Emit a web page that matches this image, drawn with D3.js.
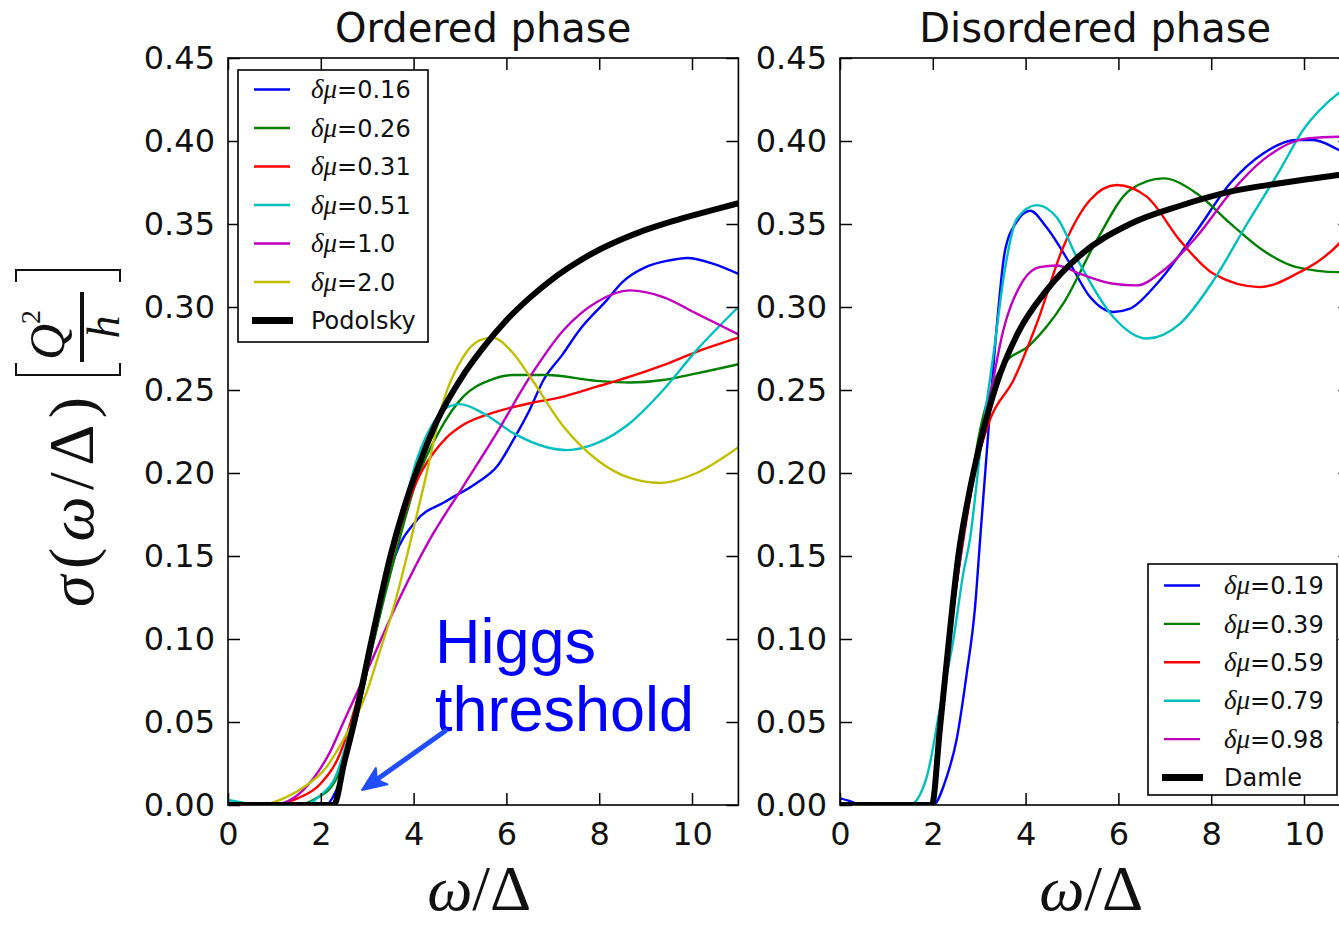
<!DOCTYPE html>
<html>
<head>
<meta charset="utf-8">
<script src="https://cdn.jsdelivr.net/npm/d3@7"></script>
<style>
body { margin: 0; background: #fff; }
</style>
</head>
<body>
<script>
var width = 1339, height = 928;

var xTicks = [0, 2, 4, 6, 8, 10];
var yTicks = [0, 0.05, 0.10, 0.15, 0.20, 0.25, 0.30, 0.35, 0.40, 0.45];
var colors = ["#0000ff", "#008000", "#ff0000", "#00bfbf", "#bf00bf", "#bfbf00"];

// ordered phase, [omega/Delta, sigma]
var orderedLabels = ["0.16", "0.26", "0.31", "0.51", "1.0", "2.0"];
var ord016 = [[0,0],[2.1,0],[2.35,0.01],[2.75,0.05],[3.15,0.10],[3.6,0.15],[4.05,0.171],[4.7,0.183],[5.36,0.194],[5.8,0.204],[6.15,0.220],[6.5,0.238],[6.8,0.256],[7.2,0.271],[7.6,0.287],[8.16,0.304],[8.5,0.315],[9.0,0.324],[9.5,0.328],[9.9,0.3295],[10.46,0.326],[11,0.320]];
var ord026 = [[0,0],[1.5,0],[1.9,0.004],[2.3,0.014],[2.75,0.05],[3.15,0.10],[3.6,0.15],[4.07,0.196],[4.55,0.225],[5.07,0.246],[5.65,0.256],[6.15,0.259],[6.87,0.259],[7.95,0.2555],[8.66,0.2545],[9.38,0.256],[10.1,0.260],[11,0.2655]];
var ord031 = [[0,0],[0.9,0],[1.5,0.004],[2.0,0.013],[2.4,0.03],[2.8,0.065],[3.15,0.105],[3.5,0.145],[3.8,0.175],[4.1,0.197],[4.4,0.211],[4.7,0.221],[5.07,0.229],[5.79,0.237],[6.51,0.242],[7.23,0.246],[7.95,0.252],[8.66,0.258],[9.38,0.265],[10.1,0.273],[11,0.2815]];
var ord051 = [[0,0.003],[0.3,0.0015],[0.6,0],[1.6,0],[2.0,0.006],[2.3,0.016],[2.7,0.052],[3.1,0.10],[3.5,0.15],[3.8,0.181],[4.07,0.208],[4.4,0.229],[4.75,0.240],[5.0,0.2415],[5.5,0.236],[6.15,0.224],[6.87,0.2155],[7.3,0.2138],[7.95,0.218],[8.66,0.230],[9.38,0.250],[10.1,0.274],[11,0.300]];
var ord10 = [[0,0],[1.0,0],[1.4,0.004],[1.84,0.016],[2.2,0.032],[2.49,0.05],[3.0,0.081],[3.68,0.1235],[4.35,0.160],[5.07,0.192],[5.79,0.224],[6.51,0.258],[7.23,0.286],[7.95,0.303],[8.66,0.310],[9.38,0.306],[10.1,0.296],[11,0.2835]];
var ord20 = [[0,0],[0.7,0],[1.2,0.004],[1.7,0.012],[2.1,0.022],[2.5,0.04],[2.95,0.065],[3.3,0.095],[3.6,0.122],[3.9,0.155],[4.25,0.196],[4.64,0.243],[5.07,0.270],[5.43,0.280],[5.7,0.2815],[6.15,0.272],[6.51,0.258],[7.23,0.228],[7.95,0.208],[8.66,0.197],[9.31,0.194],[10.1,0.200],[11,0.2155]];
var podolsky = [[0,0],[2.28,0],[2.5,0.025],[2.72,0.05],[3.1,0.10],[3.5,0.15],[3.85,0.184],[4.2,0.211],[4.5,0.231],[5.07,0.259],[5.5,0.2755],[6.0,0.292],[6.5,0.3055],[7.0,0.317],[7.5,0.3265],[8.0,0.3345],[8.5,0.341],[9.0,0.3465],[9.5,0.351],[10.0,0.355],[10.5,0.3588],[11,0.3625]];

// disordered phase
var disorderedLabels = ["0.19", "0.39", "0.59", "0.79", "0.98"];
var dis019 = [[0,0.004],[0.2,0.0025],[0.45,0],[2.0,0],[2.3,0.017],[2.51,0.039],[2.73,0.079],[2.91,0.119],[3.02,0.160],[3.2,0.226],[3.4,0.295],[3.55,0.333],[3.8,0.351],[4.1,0.358],[4.45,0.348],[4.96,0.326],[5.39,0.306],[5.89,0.297],[6.25,0.299],[6.83,0.314],[7.69,0.346],[8.41,0.3745],[9.12,0.3925],[9.84,0.4006],[10.2,0.4006],[10.75,0.3946],[11,0.391]];
var dis039 = [[0,0],[1.95,0],[2.15,0.05],[2.4,0.11],[2.65,0.16],[3.02,0.226],[3.3,0.254],[3.52,0.265],[4.09,0.277],[4.81,0.302],[5.53,0.340],[6.25,0.3705],[6.97,0.3775],[7.69,0.3684],[8.41,0.3504],[9.12,0.334],[9.84,0.324],[10.75,0.321],[11,0.3215]];
var dis059 = [[0,0],[1.95,0],[2.2,0.06],[2.45,0.12],[2.66,0.16],[2.9,0.20],[3.23,0.232],[3.74,0.256],[4.24,0.290],[4.81,0.336],[5.39,0.3645],[5.96,0.3735],[6.61,0.3665],[7.33,0.340],[8.05,0.320],[9.05,0.312],[9.84,0.320],[10.75,0.338],[11,0.346]];
var dis079 = [[0,0],[1.5,0],[1.87,0.017],[2.16,0.059],[2.44,0.099],[2.66,0.140],[2.8,0.160],[3.05,0.22],[3.3,0.27],[3.55,0.322],[3.81,0.353],[4.24,0.3614],[4.67,0.354],[5.17,0.326],[5.89,0.294],[6.61,0.281],[7.33,0.290],[8.05,0.316],[8.77,0.350],[9.48,0.3825],[9.98,0.4066],[10.75,0.429],[11,0.434]];
var dis098 = [[0,0],[1.95,0],[2.15,0.05],[2.4,0.11],[2.65,0.16],[3.0,0.215],[3.23,0.246],[3.52,0.286],[3.95,0.316],[4.3,0.324],[4.67,0.325],[5.17,0.320],[5.89,0.314],[6.39,0.313],[6.97,0.322],[7.69,0.3425],[8.41,0.3685],[9.12,0.3886],[10.06,0.4016],[10.75,0.4026],[11,0.402]];
var damle = [[0,0],[1.98,0],[2.15,0.045],[2.35,0.10],[2.55,0.15],[2.75,0.183],[3.02,0.218],[3.38,0.254],[3.81,0.283],[4.45,0.310],[5.17,0.331],[6.25,0.350],[7.33,0.361],[8.41,0.3695],[9.48,0.3745],[10.75,0.3795],[11,0.3805]];

var svg = d3.select("body").append("svg")
    .attr("width", width)
    .attr("height", height);

var sans = "'DejaVu Sans', sans-serif";
var serif = "'Liberation Serif', 'DejaVu Serif', serif";

function drawPanel(opt) {
    var x = d3.scaleLinear().domain([0, 11]).range([opt.left, opt.left + 510.4]);
    var y = d3.scaleLinear().domain([0, 0.45]).range([805, 58]);
    var g = svg.append("g");

    var clipId = "clip" + opt.left;
    g.append("clipPath").attr("id", clipId)
      .append("rect")
        .attr("x", x(0)).attr("y", y(0.45))
        .attr("width", x(11) - x(0)).attr("height", y(0) - y(0.45));

    var line = d3.line()
        .x(function(d) { return x(d[0]); })
        .y(function(d) { return y(d[1]); })
        .curve(d3.curveMonotoneX);

    var plot = g.append("g").attr("clip-path", "url(#" + clipId + ")");
    opt.series.forEach(function(s, i) {
        plot.append("path")
            .attr("d", line(s))
            .attr("fill", "none")
            .attr("stroke", colors[i])
            .attr("stroke-width", 2.4);
    });
    plot.append("path")
        .attr("d", line(opt.ref))
        .attr("fill", "none")
        .attr("stroke", "#000")
        .attr("stroke-width", 6)
        .attr("stroke-linejoin", "round");

    // ticks on four sides, pointing in
    var ax = [
        [d3.axisBottom(x).tickValues(xTicks).tickSize(-12).tickPadding(17).tickSizeOuter(0), y(0), 0],
        [d3.axisTop(x).tickValues(xTicks).tickSize(-12).tickSizeOuter(0).tickFormat(""), y(0.45), 0],
        [d3.axisLeft(y).tickValues(yTicks).tickSize(-12).tickPadding(13).tickSizeOuter(0).tickFormat(d3.format(".2f")), 0, x(0)],
        [d3.axisRight(y).tickValues(yTicks).tickSize(-12).tickSizeOuter(0).tickFormat(""), 0, x(11)]
    ];
    ax.forEach(function(a) {
        var ag = g.append("g")
            .attr("transform", "translate(" + a[2] + "," + a[1] + ")")
            .call(a[0]);
        ag.select(".domain").remove();
        ag.selectAll("line").attr("stroke", "#000").attr("stroke-width", 1.5);
        ag.selectAll("text")
            .attr("fill", "#111")
            .style("font-family", sans)
            .style("font-size", "32px");
    });

    g.append("rect")
        .attr("x", x(0)).attr("y", y(0.45))
        .attr("width", x(11) - x(0)).attr("height", y(0) - y(0.45))
        .attr("fill", "none")
        .attr("stroke", "#000")
        .attr("stroke-width", 1.6);

    // title
    g.append("text")
        .attr("x", (x(0) + x(11)) / 2).attr("y", 42)
        .attr("text-anchor", "middle")
        .style("font-family", sans).style("font-size", "40px")
        .attr("fill", "#111")
        .text(opt.title);

    // x label
    var xl = g.append("text")
        .attr("x", (x(0) + x(11)) / 2 - 4).attr("y", 910)
        .attr("text-anchor", "middle")
        .attr("fill", "#111")
        .style("font-family", serif).style("font-size", "64px");
    xl.append("tspan").style("font-style", "italic").text("ω");
    xl.append("tspan").text("/");
    xl.append("tspan").text("Δ");

    // legend
    var L = opt.legend;
    var lg = g.append("g").attr("transform", "translate(" + L.x + "," + L.y + ")");
    lg.append("rect")
        .attr("width", L.w).attr("height", L.h)
        .attr("fill", "#fff")
        .attr("stroke", "#000")
        .attr("stroke-width", 1.6);
    var items = opt.labels.map(function(l, i) { return {label: l, color: colors[i], ref: false}; });
    items.push({label: opt.refName, color: "#000", ref: true});
    items.forEach(function(it, i) {
        var yy = L.first + i * L.step;
        lg.append("line")
            .attr("x1", it.ref ? 14 : 16).attr("x2", it.ref ? 55 : 52)
            .attr("y1", yy).attr("y2", yy)
            .attr("stroke", it.color)
            .attr("stroke-width", it.ref ? 7 : 2.4);
        var t = lg.append("text")
            .attr("x", L.tx).attr("y", yy).attr("dy", "0.36em")
            .attr("fill", "#111")
            .style("font-family", sans).style("font-size", "24px");
        if (it.ref) {
            t.text(it.label);
        } else {
            t.append("tspan").style("font-family", serif).style("font-style", "italic")
                .style("font-size", "27px").text("δμ");
            t.append("tspan").text("=" + it.label);
        }
    });

    return {x: x, y: y, g: g};
}

var left = drawPanel({
    left: 228,
    title: "Ordered phase",
    series: [ord016, ord026, ord031, ord051, ord10, ord20],
    ref: podolsky,
    labels: orderedLabels,
    refName: "Podolsky",
    legend: {x: 238, y: 70, w: 190, h: 272, first: 19.5, step: 38.5, tx: 73}
});

var right = drawPanel({
    left: 840,
    title: "Disordered phase",
    series: [dis019, dis039, dis059, dis079, dis098],
    ref: damle,
    labels: disorderedLabels,
    refName: "Damle",
    legend: {x: 1148, y: 564, w: 189, h: 231, first: 21.5, step: 38.4, tx: 76}
});

// annotation in the ordered panel
var ax_ = left.x, ay_ = left.y;
var ann = left.g.append("g");
ann.append("text")
    .attr("x", ax_(4.46)).attr("y", ay_(0.0855))
    .attr("fill", "#0000ff")
    .style("font-family", "'Liberation Sans', Arial, sans-serif").style("font-size", "63px")
    .text("Higgs");
ann.append("text")
    .attr("x", ax_(4.46)).attr("y", ay_(0.0446))
    .attr("fill", "#0000ff")
    .style("font-family", "'Liberation Sans', Arial, sans-serif").style("font-size", "63px")
    .text("threshold");

var x1 = ax_(4.68), y1 = ay_(0.0446), x2 = ax_(2.89), y2 = ay_(0.009);
var ang = Math.atan2(y2 - y1, x2 - x1);
var hl = 24, hw = 10;
var arrowColor = "#1f4dff";
ann.append("line")
    .attr("x1", x1).attr("y1", y1)
    .attr("x2", x2 - Math.cos(ang) * hl * 0.7).attr("y2", y2 - Math.sin(ang) * hl * 0.7)
    .attr("stroke", arrowColor)
    .attr("stroke-width", 5)
    .attr("stroke-linecap", "round");
var bx = x2 - Math.cos(ang) * hl, by = y2 - Math.sin(ang) * hl;
var nx = -Math.sin(ang) * hw, ny = Math.cos(ang) * hw;
var mx = x2 - Math.cos(ang) * hl * 0.75, my = y2 - Math.sin(ang) * hl * 0.75;
ann.append("path")
    .attr("d", "M" + x2 + "," + y2 + "L" + (bx + nx) + "," + (by + ny) +
               "L" + mx + "," + my + "L" + (bx - nx) + "," + (by - ny) + "Z")
    .attr("fill", arrowColor)
    .attr("stroke", arrowColor)
    .attr("stroke-width", 2)
    .attr("stroke-linejoin", "round");

// y label, rotated: local x runs up the page, local y runs right
var yl = svg.append("g").attr("transform", "rotate(-90)");
var yt = yl.append("text")
    .attr("x", -607).attr("y", 93)
    .attr("textLength", 210).attr("lengthAdjust", "spacing")
    .attr("fill", "#111")
    .style("font-family", serif).style("font-size", "64px");
yt.append("tspan").style("font-style", "italic").text("σ");
yt.append("tspan").text("(");
yt.append("tspan").style("font-style", "italic").text("ω");
yt.append("tspan").text("/Δ)");

yl.append("path")
    .attr("d", "M-363,16L-375,16L-375,120L-363,120M-282,16L-270,16L-270,120L-282,120")
    .attr("fill", "none").attr("stroke", "#111").attr("stroke-width", 2);
yl.append("line")
    .attr("x1", -362).attr("x2", -292).attr("y1", 82).attr("y2", 82)
    .attr("stroke", "#111").attr("stroke-width", 4);
var q = yl.append("text")
    .attr("x", -360).attr("y", 64)
    .attr("fill", "#111")
    .style("font-family", serif).style("font-size", "50px");
q.append("tspan").style("font-style", "italic").text("Q");
q.append("tspan").attr("dy", -24).style("font-size", "28px").text("2");
yl.append("text")
    .attr("x", -327).attr("y", 119)
    .attr("text-anchor", "middle")
    .attr("fill", "#111")
    .style("font-family", serif).style("font-size", "46px").style("font-style", "italic")
    .text("h");
</script>
</body>
</html>
